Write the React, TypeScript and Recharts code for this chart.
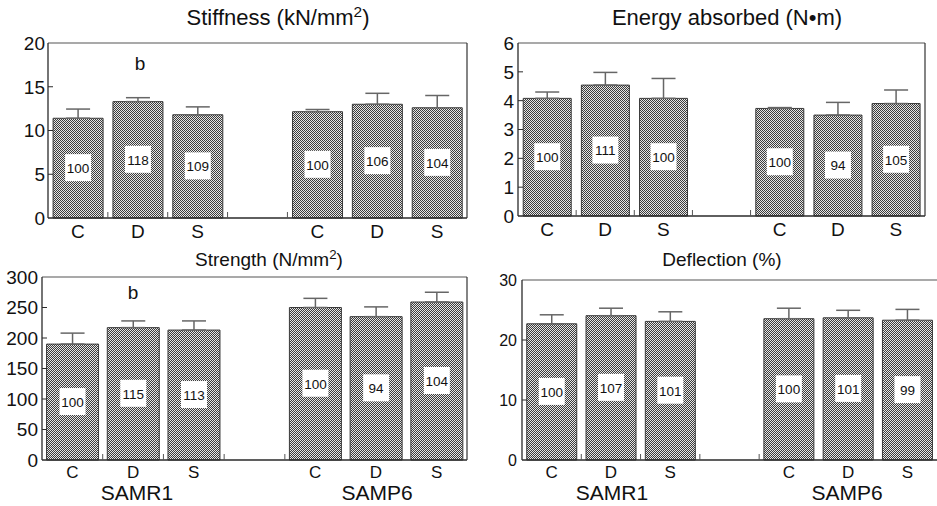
import React from 'react';
import { BarChart, Bar, XAxis, YAxis, ErrorBar, LabelList } from 'recharts';

// ---------- data ----------
const categories = ['C', 'D', 'S', '', 'C', 'D', 'S'];

const stiffness = [11.4, 13.3, 11.8, null, 12.15, 13.0, 12.6];
const stiffnessErr = [1.05, 0.45, 0.9, null, 0.25, 1.25, 1.4];
const stiffnessPct = [100, 118, 109, null, 100, 106, 104];
const stiffnessTicks = [0, 5, 10, 15, 20];

const energy = [4.08, 4.54, 4.08, null, 3.73, 3.5, 3.9];
const energyErr = [0.22, 0.44, 0.69, null, 0.03, 0.44, 0.47];
const energyPct = [100, 111, 100, null, 100, 94, 105];
const energyTicks = [0, 1, 2, 3, 4, 5, 6];

const strength = [190, 217, 213, null, 250, 235, 259];
const strengthErr = [18, 11, 15, null, 15, 16, 16];
const strengthPct = [100, 115, 113, null, 100, 94, 104];
const strengthTicks = [0, 50, 100, 150, 200, 250, 300];

const deflection = [22.7, 24.05, 23.1, null, 23.55, 23.7, 23.3];
const deflectionErr = [1.5, 1.25, 1.6, null, 1.75, 1.25, 1.8];
const deflectionPct = [100, 107, 101, null, 100, 101, 99];
const deflectionTicks = [0, 10, 20, 30];

const groups = ['SAMR1', 'SAMP6'];

const FONT = '"Liberation Sans", Arial, Helvetica, sans-serif';
const AXIS = '#2a2a2a';

function rows(vals: (number | null)[], errs: (number | null)[], pcts: (number | null)[]) {
  return categories.map((c, i) => ({
    cat: c,
    v: vals[i],
    err: errs[i] == null ? undefined : [0, errs[i]],
    pct: pcts[i],
  }));
}

type PanelProps = {
  id: string;
  left: number;
  top: number;
  width: number;
  height: number;
  plot: { x0: number; x1: number; y0: number; y1: number }; // relative to panel box
  data: any[];
  ticks: number[];
  yFont: number;
  yGap: number;
  xFont: number;
  xDy: number;
  frameRight: boolean;
  gap: string;
};

function Panel(p: PanelProps) {
  const plotW = p.plot.x1 - p.plot.x0;
  const slot = plotW / categories.length;
  const max = p.ticks[p.ticks.length - 1];
  const margin = {
    left: p.plot.x0 - 1,
    top: p.plot.y0 - 1,
    right: p.frameRight ? p.width - p.plot.x1 - 1 : p.width - p.plot.x1,
    bottom: p.height - p.plot.y1 - 1,
  };

  const XTick = (props: any) => {
    const { x, y, payload, index } = props;
    return (
      <g>
        <text x={x} y={y + p.xDy} textAnchor="middle" fontSize={p.xFont} fontFamily={FONT} fill="#111">
          {payload.value}
        </text>
        {index >= 1 && index <= 4 ? (
          <line x1={x - slot / 2} x2={x - slot / 2} y1={y} y2={y - 6} stroke="#555" strokeWidth={1} />
        ) : null}
      </g>
    );
  };

  const YTick = (props: any) => {
    const { x, y, payload } = props;
    const edge = payload.value === 0 || payload.value === max;
    return (
      <g>
        <text x={x - p.yGap} y={y} dy="0.36em" textAnchor="end" fontSize={p.yFont} fontFamily={FONT} fill="#111">
          {payload.value}
        </text>
        {!edge ? <line x1={x} x2={x + 5} y1={y} y2={y} stroke={AXIS} strokeWidth={1} /> : null}
      </g>
    );
  };

  const renderLabel = (props: any) => {
    const { x, y, width, height, value } = props;
    if (value == null) return null;
    const cx = x + width / 2;
    const cy = y + height / 2;
    return (
      <g>
        <rect x={cx - 13} y={cy - 14} width={26} height={27} fill="#fff" />
        <text x={cx} y={cy} dy="0.36em" textAnchor="middle" fontSize={13.5} fontFamily={FONT} fill="#111">
          {value}
        </text>
      </g>
    );
  };

  return (
    <div style={{ position: 'absolute', left: p.left, top: p.top }}>
      <BarChart width={p.width} height={p.height} data={p.data} margin={margin} barCategoryGap={p.gap}>
        <defs>
          <pattern id={'pat' + p.id} width={2} height={2} patternUnits="userSpaceOnUse">
            <rect x={0} y={0} width={2} height={2} fill="#e6e6e6" />
            <rect x={0} y={0} width={1} height={1} fill="#3c3c3c" />
            <rect x={1} y={1} width={1} height={1} fill="#3c3c3c" />
          </pattern>
        </defs>
        <XAxis
          dataKey="cat"
          interval={0}
          height={1}
          tickSize={0}
          tickMargin={0}
          tickLine={false}
          axisLine={{ stroke: AXIS, strokeWidth: 1.3 }}
          tick={XTick}
        />
        <XAxis
          xAxisId="top"
          dataKey="cat"
          orientation="top"
          height={1}
          tick={false}
          tickLine={false}
          axisLine={{ stroke: '#555', strokeWidth: 1.2 }}
        />
        <YAxis
          domain={[0, max]}
          ticks={p.ticks}
          width={1}
          tickSize={0}
          tickMargin={0}
          tickLine={false}
          axisLine={{ stroke: AXIS, strokeWidth: 1.3 }}
          tick={YTick}
          interval={0}
        />
        {p.frameRight ? (
          <YAxis
            yAxisId="r"
            orientation="right"
            width={1}
            tick={false}
            tickLine={false}
            axisLine={{ stroke: '#333', strokeWidth: 1.2 }}
          />
        ) : null}
        <Bar dataKey="v" fill={'url(#pat' + p.id + ')'} stroke="#3a3a3a" strokeWidth={1} isAnimationActive={false}>
          <ErrorBar dataKey="err" direction="y" width={12} stroke="#666" strokeWidth={1.5} />
          <LabelList dataKey="pct" content={renderLabel} />
        </Bar>
      </BarChart>
    </div>
  );
}

const titleStyle = (cx: number, top: number, size: number): React.CSSProperties => ({
  position: 'absolute',
  left: cx - 200,
  width: 400,
  top,
  textAlign: 'center',
  fontFamily: FONT,
  fontSize: size,
  lineHeight: '24px',
  color: '#111',
  whiteSpace: 'nowrap',
});

const supStyle: React.CSSProperties = { fontSize: '0.7em', verticalAlign: '0.55em', lineHeight: 0 };

const groupStyle = (cx: number): React.CSSProperties => ({
  position: 'absolute',
  left: cx - 100,
  width: 200,
  top: 481,
  textAlign: 'center',
  fontFamily: FONT,
  fontSize: 21,
  lineHeight: '24px',
  color: '#111',
});

export default function App() {
  return (
    <div style={{ position: 'absolute', left: 0, top: 0, width: 937, height: 506, background: '#fff', overflow: 'hidden' }}>
      <Panel
        id="a"
        left={0}
        top={0}
        width={470}
        height={245}
        plot={{ x0: 48, x1: 467, y0: 43, y1: 218 }}
        data={rows(stiffness, stiffnessErr, stiffnessPct)}
        ticks={stiffnessTicks}
        yFont={19}
        yGap={3}
        xFont={19}
        xDy={20}
        frameRight
        gap="8.5%"
      />
      <Panel
        id="b"
        left={470}
        top={0}
        width={467}
        height={245}
        plot={{ x0: 48, x1: 455, y0: 43, y1: 216 }}
        data={rows(energy, energyErr, energyPct)}
        ticks={energyTicks}
        yFont={19}
        yGap={4}
        xFont={19}
        xDy={20}
        frameRight
        gap="9%"
      />
      <Panel
        id="c"
        left={0}
        top={245}
        width={470}
        height={261}
        plot={{ x0: 42, x1: 467, y0: 32, y1: 215 }}
        data={rows(strength, strengthErr, strengthPct)}
        ticks={strengthTicks}
        yFont={19}
        yGap={4}
        xFont={17}
        xDy={18}
        frameRight
        gap="7.5%"
      />
      <Panel
        id="d"
        left={470}
        top={245}
        width={467}
        height={261}
        plot={{ x0: 52, x1: 467, y0: 35, y1: 215 }}
        data={rows(deflection, deflectionErr, deflectionPct)}
        ticks={deflectionTicks}
        yFont={16}
        yGap={5}
        xFont={17}
        xDy={18}
        frameRight={false}
        gap="8%"
      />

      <div style={titleStyle(278, 6, 22)}>
        Stiffness (kN/mm<span style={supStyle}>2</span>)
      </div>
      <div style={titleStyle(727, 6, 22)}>Energy absorbed (N•m)</div>
      <div style={titleStyle(269, 248, 19)}>
        Strength (N/mm<span style={supStyle}>2</span>)
      </div>
      <div style={titleStyle(722, 248, 19)}>Deflection (%)</div>

      <div style={{ position: 'absolute', left: 120, width: 40, top: 52, textAlign: 'center', fontFamily: FONT, fontSize: 19, lineHeight: '24px', color: '#111' }}>b</div>
      <div style={{ position: 'absolute', left: 113, width: 40, top: 281, textAlign: 'center', fontFamily: FONT, fontSize: 19, lineHeight: '24px', color: '#111' }}>b</div>

      <div style={groupStyle(137)}>{groups[0]}</div>
      <div style={groupStyle(377)}>{groups[1]}</div>
      <div style={groupStyle(612)}>{groups[0]}</div>
      <div style={groupStyle(847)}>{groups[1]}</div>
    </div>
  );
}
